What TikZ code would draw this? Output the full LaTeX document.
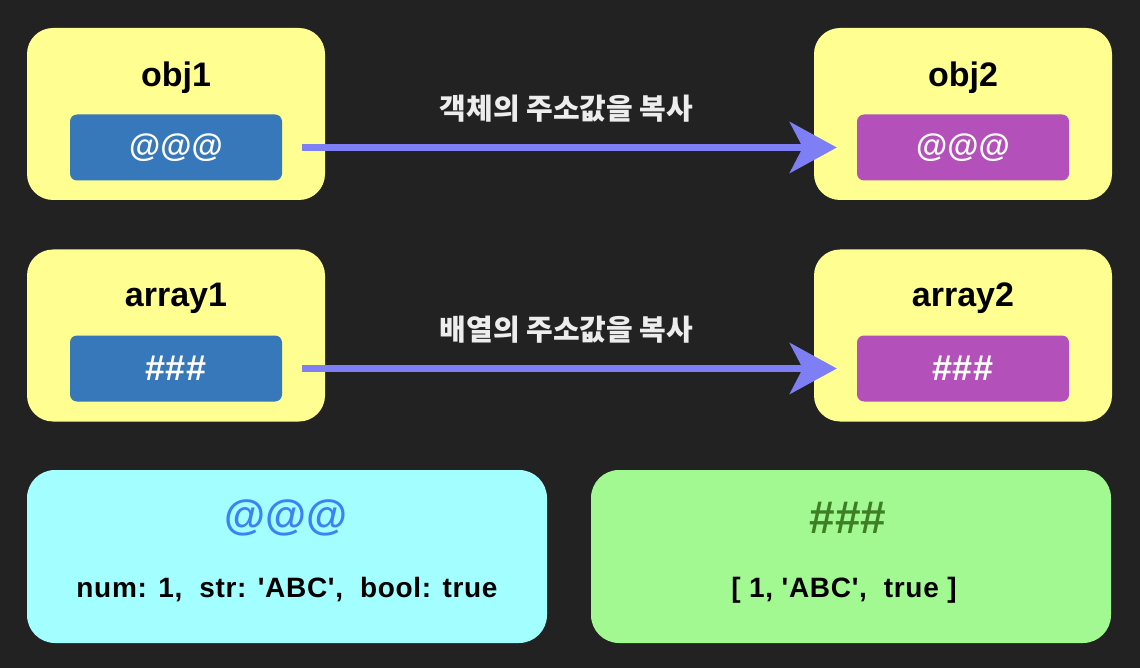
\documentclass[tikz,border=0pt]{standalone}
\usepackage{fontspec}
\newfontfamily\lat{Liberation Sans}
\newfontfamily\latsp{Liberation Sans}[LetterSpace=2.5]
\newfontfamily\kr{Noto Sans CJK KR}
\usetikzlibrary{arrows.meta}
\definecolor{bgc}{HTML}{222222}
\definecolor{ylw}{HTML}{FFFE91}
\definecolor{blu}{HTML}{3778BA}
\definecolor{pur}{HTML}{B450B9}
\definecolor{cyn}{HTML}{A3FFFF}
\definecolor{grn}{HTML}{A3F991}
\definecolor{arrc}{HTML}{7F7FF5}
\definecolor{atblue}{HTML}{3D82F5}
\definecolor{hashgrn}{HTML}{3E7F25}
\tikzset{
  ybox/.style={fill=ylw, rounded corners=26pt, minimum width=298pt, minimum height=172pt, inner sep=0pt},
  valbox/.style={rounded corners=7pt, minimum width=212pt, minimum height=66pt, inner sep=0pt, text=white, font=\lat\bfseries\fontsize{32}{32}\selectfont},
  ttl/.style={inner sep=0pt, font=\lat\bfseries\fontsize{34}{34}\selectfont, text=black},
  membox/.style={rounded corners=28pt, minimum width=520pt, minimum height=173pt, inner sep=0pt},
  memkey/.style={inner sep=0pt, font=\lat\bfseries\fontsize{42}{42}\selectfont},
  memval/.style={inner sep=0pt, font=\latsp\bfseries\fontsize{28}{28}\selectfont, text=black},
  arr/.style={draw=arrc, line width=7pt, -{Stealth[length=47pt, width=51pt, inset=13pt]}},
  lbl/.style={inner sep=0pt, text=white!93!black, font=\kr\bfseries\fontsize{29}{29}\selectfont}
}
\begin{document}
\begin{tikzpicture}[x=1pt,y=-1pt]
\fill[bgc] (0,0) rectangle (1140,668);
\useasboundingbox (0,0) rectangle (1140,668);
% row 1
\node[ybox] (obj1) at (176,114) {};
\node[ttl] (obj1t) at (176,78) {obj1};
\node[valbox, fill=blu] (obj1v) at (176,147.5) {@@@};
\node[ybox] (obj2) at (963,114) {};
\node[ttl] (obj2t) at (963,78) {obj2};
\node[valbox, fill=pur] (obj2v) at (963,147.5) {@@@};
\draw[arr] ([xshift=20pt]obj1v.east) -- ([xshift=-20pt]obj2v.west)
  node[lbl, midway, yshift=39pt, xshift=-3pt] (l1) {객체의 주소값을 복사};
% row 2
\node[ybox] (arr1) at (176,335.5) {};
\node[ttl] (arr1t) at (176,298) {array1};
\node[valbox, fill=blu, font=\lat\bfseries\fontsize{36}{36}\selectfont] (arr1v) at (176,368.5) {\#\#\#};
\node[ybox] (arr2) at (963,335.5) {};
\node[ttl] (arr2t) at (963,298) {array2};
\node[valbox, fill=pur, font=\lat\bfseries\fontsize{36}{36}\selectfont] (arr2v) at (963,368.5) {\#\#\#};
\draw[arr] ([xshift=20pt]arr1v.east) -- ([xshift=-20pt]arr2v.west)
  node[lbl, midway, yshift=39pt, xshift=-3pt] (l2) {배열의 주소값을 복사};
% row 3
\node[membox, fill=cyn] (m1) at (287,556.5) {};
\node[memkey, text=atblue] (m1k) at (286,518) {@@@};
\node[memval] (m1v) at (287,590) {num: 1,\ \ str: 'ABC',\ \ bool: true};
\node[membox, fill=grn] (m2) at (851,556.5) {};
\node[memkey, text=hashgrn, font=\lat\bfseries\fontsize{46}{46}\selectfont] (m2k) at (848,518) {\#\#\#};
\node[memval] (m2v) at (844,590) {[ 1,\ 'ABC',\ \ true ]};
\end{tikzpicture}
\end{document}
